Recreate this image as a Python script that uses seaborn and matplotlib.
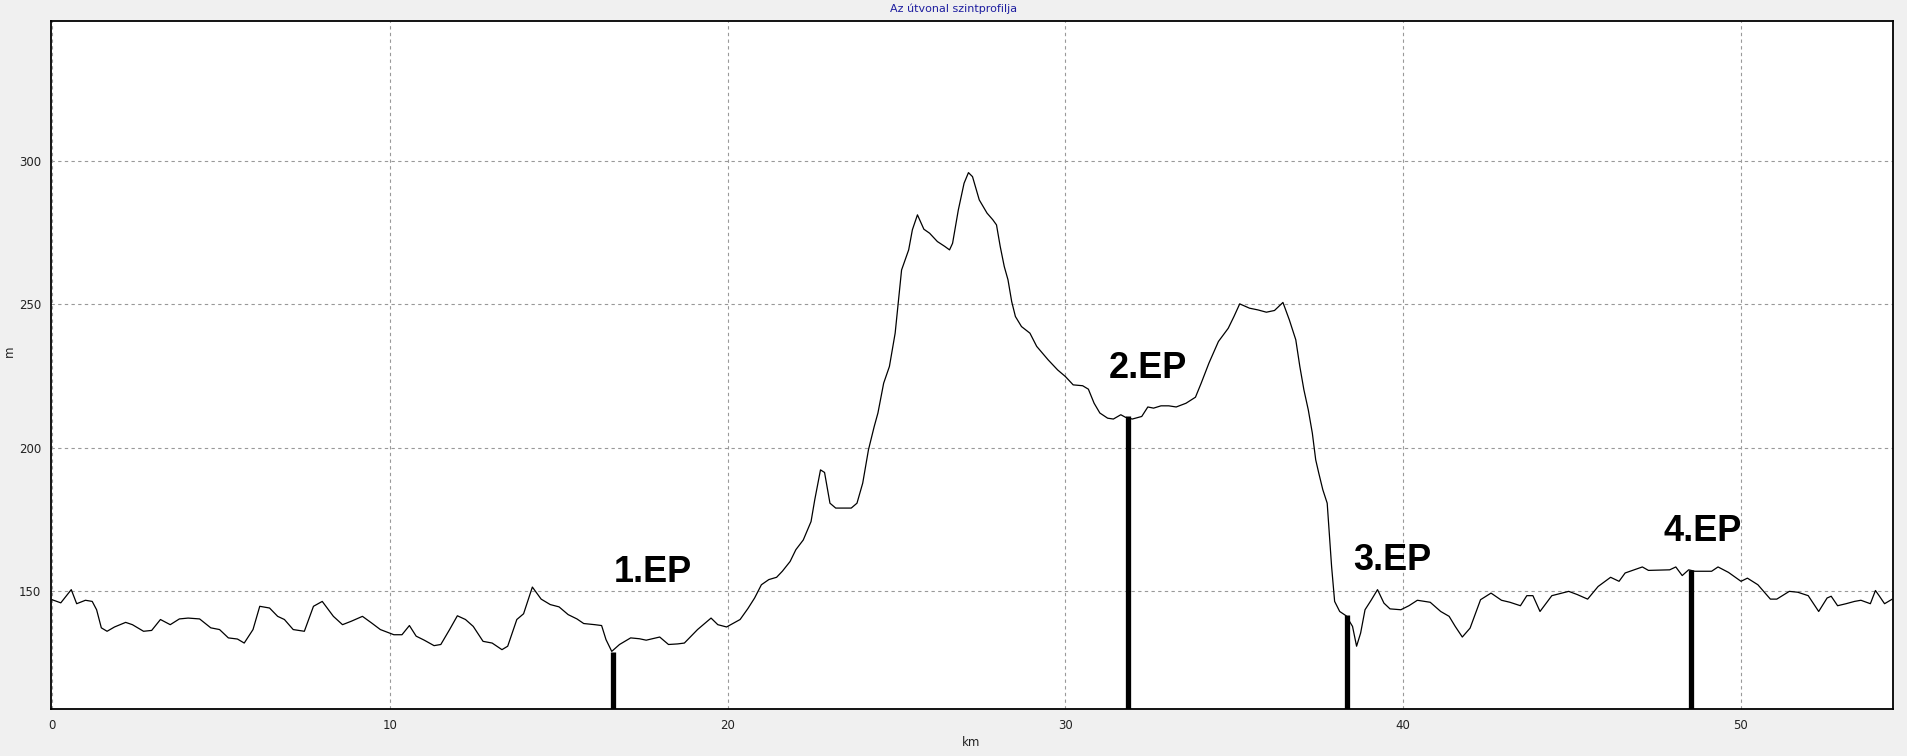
import matplotlib
matplotlib.use("Agg")
import matplotlib.pyplot as plt
import seaborn as sns
import pandas as pd

# elevation profile (km, m)
km = [0.0, 0.26, 0.57, 0.73, 0.99, 1.19, 1.32, 1.46, 1.63, 1.85, 2.18, 2.38, 2.71, 2.95,
      3.21, 3.5, 3.77, 4.03, 4.37, 4.7, 4.96, 5.22, 5.49, 5.69, 5.95, 6.15, 6.44, 6.68,
      6.88, 7.14, 7.47, 7.74, 8.0, 8.33, 8.6, 8.86, 9.19, 9.46, 9.72, 10.12, 10.36, 10.58,
      10.78, 11.02, 11.31, 11.51, 11.77, 12.0, 12.24, 12.47, 12.76, 13.03, 13.32, 13.49,
      13.76, 13.96, 14.22, 14.48, 14.75, 15.01, 15.28, 15.54, 15.74, 16.07, 16.27, 16.4,
      16.57, 16.8, 17.13, 17.39, 17.59, 17.99, 18.25, 18.52, 18.72, 19.11, 19.51, 19.71,
      19.97, 20.37, 20.6, 20.8, 21.0, 21.22, 21.45, 21.62, 21.85, 22.02, 22.24, 22.47,
      22.58, 22.75, 22.87, 23.03, 23.2, 23.66, 23.83, 24.0, 24.17, 24.34, 24.45, 24.62,
      24.79, 24.96, 25.07, 25.15, 25.36, 25.47, 25.62, 25.81, 25.98, 26.21, 26.43, 26.57,
      26.66, 26.83, 27.0, 27.13, 27.25, 27.45, 27.68, 27.85, 27.96, 28.07, 28.19, 28.3,
      28.41, 28.52, 28.7, 28.95, 29.15, 29.49, 29.77, 30.0, 30.23, 30.51, 30.68, 30.85,
      31.02, 31.25, 31.42, 31.64, 31.78, 31.98, 32.26, 32.44, 32.61, 32.83, 33.06, 33.28,
      33.57, 33.85, 34.02, 34.25, 34.53, 34.82, 34.99, 35.16, 35.45, 35.7, 35.95, 36.19,
      36.44, 36.63, 36.82, 36.94, 37.06, 37.19, 37.31, 37.41, 37.5, 37.62, 37.75, 37.88,
      37.97, 38.12, 38.31, 38.5, 38.62, 38.74, 38.87, 39.05, 39.24, 39.43, 39.61, 39.93,
      40.17, 40.42, 40.8, 41.11, 41.36, 41.54, 41.75, 41.98, 42.29, 42.6, 42.91, 43.16,
      43.47, 43.66, 43.84, 44.05, 44.4, 44.9, 45.15, 45.46, 45.77, 46.14, 46.39, 46.57,
      47.08, 47.26, 47.89, 48.07, 48.26, 48.45, 48.63, 49.13, 49.32, 49.63, 50.0, 50.19,
      50.5, 50.87, 51.06, 51.43, 51.68, 51.99, 52.3, 52.55, 52.67, 52.86, 53.11, 53.36,
      53.55, 53.83, 53.98, 54.1, 54.25, 54.48]
elev = [147.1, 146.0, 150.6, 145.7, 146.9, 146.5, 143.6, 137.3, 136.1, 137.6, 139.2, 138.4,
        136.1, 136.4, 140.2, 138.4, 140.4, 140.7, 140.4, 137.3, 136.7, 133.8, 133.4, 132.0,
        136.7, 144.8, 144.2, 141.3, 140.2, 136.7, 136.1, 144.8, 146.5, 141.3, 138.4, 139.6,
        141.3, 139.0, 136.7, 134.9, 134.9, 138.1, 134.4, 133.0, 131.1, 131.5, 136.7, 141.5,
        140.2, 137.8, 132.6, 132.0, 129.7, 130.9, 140.2, 142.2, 151.5, 147.3, 145.4, 144.6,
        141.9, 140.4, 138.8, 138.4, 138.1, 133.2, 129.1, 131.5, 133.8, 133.5, 133.0, 134.1,
        131.5, 131.7, 132.0, 136.7, 140.7, 138.4, 137.6, 140.2, 144.0, 147.7, 152.3, 154.1,
        154.9, 157.0, 160.4, 164.5, 167.9, 174.3, 181.9, 192.3, 191.4, 180.7, 179.0, 179.0,
        180.7, 187.7, 199.3, 207.4, 212.1, 222.5, 228.3, 239.9, 252.7, 261.9, 268.9, 275.9,
        281.1, 276.1, 274.7, 271.8, 270.1, 268.9, 271.2, 282.8, 292.1, 295.8, 294.4, 286.3,
        281.7, 279.4, 277.6, 270.1, 263.1, 258.5, 250.9, 245.7, 242.2, 239.9, 235.3, 230.6,
        227.1, 224.8, 221.9, 221.6, 220.4, 215.5, 212.1, 210.3, 210.0, 211.5, 210.6, 210.0,
        210.9, 214.2, 213.8, 214.6, 214.6, 214.2, 215.5, 217.6, 222.5, 229.5, 237.0, 241.6,
        245.7, 250.1, 248.6, 248.0, 247.2, 247.8, 250.6, 244.5, 237.6, 228.3, 220.2, 213.2,
        205.1, 195.8, 191.2, 185.4, 180.7, 158.7, 146.5, 143.0, 141.5, 137.8, 130.9, 135.5,
        143.6, 146.9, 150.6, 145.9, 143.9, 143.6, 145.0, 146.9, 146.2, 143.0, 141.3, 137.8,
        134.1, 137.2, 147.1, 149.4, 146.9, 146.2, 145.0, 148.5, 148.5, 143.0, 148.5, 150.0,
        148.9, 147.3, 151.7, 154.9, 153.5, 156.4, 158.5, 157.3, 157.5, 158.5, 155.5, 157.5,
        157.0, 157.0, 158.5, 156.6, 153.5, 154.6, 152.3, 147.3, 147.3, 150.0, 149.7, 148.5,
        143.0, 147.7, 148.3, 145.0, 145.7, 146.5, 146.9, 145.7, 150.3, 148.3, 145.7, 147.3]

# checkpoints (EP)
ep_labels = ["1.EP", "2.EP", "3.EP", "4.EP"]
ep_km = [16.61, 31.85, 38.33, 48.53]
ep_elev = [128.8, 210.9, 141.9, 157.3]
ep_label_km = [16.63, 31.28, 38.53, 47.7]
ep_label_elev = [153.4, 224.2, 157.5, 167.4]

x_ticks = [0, 10, 20, 30, 40, 50]
y_ticks = [150, 200, 250, 300]

df = pd.DataFrame({"km": km, "m": elev})

sns.set_style("white")
plt.rcParams["font.family"] = ["DejaVu Sans"]

fig = plt.figure(figsize=(19.08, 7.56), dpi=100, facecolor="#f0f0f0")
ax = fig.add_axes([0.02673, 0.06164, 0.96541, 0.91098])
ax.set_facecolor("white")

ymin, ymax = 108.9, 348.7
sns.lineplot(data=df, x="km", y="m", color="black", linewidth=0.9, ax=ax, sort=False)
ax.vlines(ep_km, ymin, ep_elev, colors="black", linewidth=3.8, zorder=3)
for lab, xk, yk in zip(ep_labels, ep_label_km, ep_label_elev):
    ax.text(xk, yk, lab, fontsize=26, fontweight="bold", family="Liberation Sans",
            ha="left", va="baseline", color="black")

ax.set_xlim(-0.03, 54.5)
ax.set_ylim(ymin, ymax)
ax.set_xticks(x_ticks)
ax.set_yticks(y_ticks)
ax.grid(True, color="#999999", linestyle=(0, (3, 3)), linewidth=0.8)
for s in ax.spines.values():
    s.set_color("black")
    s.set_linewidth(1.3)
ax.tick_params(axis="both", direction="out", length=4, width=1, color="black",
               labelsize=8.5, labelcolor="#222222", pad=3)

ax.set_xlabel("km", fontsize=8.5, color="#222222")
ax.set_ylabel("m", fontsize=8.5, color="#222222")
ax.xaxis.set_label_coords(0.4995, -0.039)
ax.yaxis.set_label_coords(-0.019, 0.52)

fig.suptitle("Az útvonal szintprofilja", y=0.989, va="center", fontsize=8, color="#1e1ea0")

fig.savefig("out.png", dpi=100, facecolor=fig.get_facecolor())
